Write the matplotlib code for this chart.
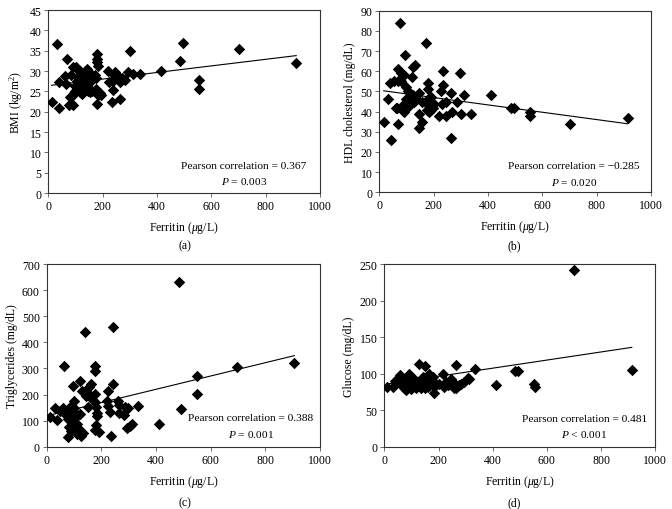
import matplotlib
matplotlib.use("Agg")
import matplotlib.pyplot as plt
import numpy as np

plt.rcParams['font.family'] = ['Liberation Serif', 'DejaVu Serif']
plt.rcParams['mathtext.fontset'] = 'custom'
plt.rcParams['mathtext.rm'] = 'Liberation Serif'
plt.rcParams['mathtext.it'] = 'Liberation Serif:italic'
plt.rcParams['mathtext.bf'] = 'Liberation Serif:bold'

# ---------------- data ----------------
bmi_ferritin = [12, 31, 40, 40, 67, 65, 61, 77, 80, 86, 90, 92, 102, 82, 98, 104, 110, 117,
                123, 117, 129, 135, 123, 144, 144, 147, 153, 117, 141, 147, 160, 153, 172,
                175, 178, 178, 180, 184, 175, 178, 184, 190, 193, 153, 160, 221, 225, 233,
                237, 239, 245, 252, 264, 264, 270, 282, 301, 294, 313, 337, 413, 485, 494,
                555, 555, 700, 912, 100, 110, 130, 95, 240]
bmi_values = [22.3, 36.6, 20.9, 27.4, 33.0, 26.8, 28.7, 21.6, 23.5, 23.9, 21.6, 30.9, 30.9,
              28.9, 26.4, 27.6, 25.6, 29.7, 27.2, 24.8, 26.0, 27.2, 24.3, 28.0, 30.1, 25.2,
              27.2, 30.1, 30.5, 28.9, 28.9, 24.8, 28.9, 28.4, 34.2, 33.0, 32.1, 31.3, 25.6,
              21.9, 24.1, 24.6, 24.1, 25.0, 25.0, 30.1, 27.4, 22.5, 25.3, 27.6, 29.7, 28.9,
              23.1, 27.2, 28.2, 27.9, 34.8, 29.7, 29.3, 29.3, 30.1, 32.5, 37.0, 25.6, 27.8,
              35.4, 32.0, 25.0, 28.5, 28.0, 24.5, 29.0]

hdl_ferritin = [16, 33, 40, 43, 67, 67, 65, 70, 77, 80, 80, 86, 92, 92, 90, 96, 98, 104, 98,
                108, 117, 120, 123, 133, 125, 135, 129, 145, 147, 147, 157, 157, 172, 178,
                178, 178, 181, 184, 190, 196, 186, 190, 221, 227, 233, 236, 245, 245, 264,
                266, 264, 285, 297, 301, 313, 337, 411, 485, 497, 555, 555, 703, 914,
                60, 110, 200, 230, 175, 55]
hdl_values = [35, 46, 54, 26, 55, 61, 42, 34, 84, 59, 55, 58, 44, 40, 58, 68, 52, 50, 46,
              43, 47, 57, 62, 63, 48, 46, 45, 32, 39, 49, 35, 45, 74, 51, 54, 46, 40, 43,
              41, 42, 45, 47, 38, 50, 53, 60, 45, 38, 49, 40, 27, 45, 59, 39, 48, 39, 48,
              42, 42, 40, 38, 34, 37, 42, 45, 44, 44, 41, 55]

tg_ferritin = [12, 30, 39, 49, 61, 63, 67, 73, 79, 79, 83, 85, 88, 91, 95, 98, 100, 104, 107,
               110, 112, 120, 122, 124, 128, 132, 140, 144, 149, 152, 156, 161, 177, 177, 177,
               177, 180, 183, 179, 177, 193, 220, 223, 226, 232, 234, 241, 244, 262, 266, 283,
               287, 293, 299, 311, 335, 411, 484, 491, 551, 551, 698, 906,
               70, 90, 100, 115, 160, 185, 265, 305]
tg_values = [115, 148, 102, 135, 148, 310, 125, 138, 36, 106, 74, 125, 157, 100, 138, 234,
             176, 74, 112, 87, 49, 253, 125, 42, 215, 51, 438, 195, 208, 151, 230, 240, 310,
             291, 202, 170, 151, 116, 84, 64, 55, 176, 215, 155, 132, 42, 457, 240, 174, 161,
             123, 151, 72, 148, 87, 157, 87, 630, 144, 272, 202, 304, 322,
             130, 60, 150, 70, 190, 130, 130, 80]

glu_ferritin = [9, 31, 41, 55, 59, 68, 74, 80, 86, 90, 92, 98, 105, 111, 117, 123, 127, 135,
                141, 144, 151, 154, 160, 166, 172, 178, 182, 185, 191, 215, 221, 228, 240, 252,
                258, 264, 274, 283, 295, 308, 314, 336, 412, 483, 492, 554, 556, 699, 913,
                70, 85, 100, 110, 120, 130, 150, 170, 180, 200, 235, 245, 265, 60, 95]
glu_values = [82, 82, 90, 94, 98, 86, 81, 78, 88, 100, 83, 79, 89, 83, 80, 89, 113, 81, 95,
              86, 110, 91, 82, 99, 86, 95, 73, 88, 84, 99, 82, 89, 86, 88, 81, 112, 84, 86,
              89, 94, 92, 106, 84, 103, 103, 86, 82, 242, 105,
              92, 80, 85, 92, 84, 90, 80, 90, 85, 86, 84, 92, 80, 86, 92]

# fitted trend line (slope, intercept)
trend_bmi = (0.0081, 26.4)
trend_hdl = (-0.0182, 50.6)
trend_tg = (0.255, 118.0)
trend_glu = (0.0555, 85.3)

ylabels = [r'BMI (kg/m$^2$)', 'HDL cholesterol (mg/dL)', 'Triglycerides (mg/dL)', 'Glucose (mg/dL)']
ymaxes = [45, 90, 700, 250]
ysteps = [5, 10, 100, 50]
stats = [('0.367', '= 0.003'), ('\u22120.285', '= 0.020'), ('0.388', '= 0.001'), ('0.481', '< 0.001')]
captions = ['(a)', '(b)', '(c)', '(d)']
xticks = [0, 200, 400, 600, 800, 1000]

xs = [bmi_ferritin, hdl_ferritin, tg_ferritin, glu_ferritin]
ys = [bmi_values, hdl_values, tg_values, glu_values]
trends = [trend_bmi, trend_hdl, trend_tg, trend_glu]

# ---------------- layout ----------------
fig = plt.figure(figsize=(6.72, 5.10), dpi=100)
positions = [
    [0.0719, 0.6196, 0.4045, 0.3588],
    [0.5645, 0.6210, 0.4043, 0.3560],
    [0.0695, 0.1222, 0.4067, 0.3580],
    [0.5719, 0.1222, 0.4033, 0.3580],
]
text_pos = [(0.72, 0.149, 0.066), (0.715, 0.146, 0.060), (0.747, 0.161, 0.070), (0.738, 0.157, 0.070)]

fs = 8.5
fs_txt = 8.2
for i in range(4):
    ax = fig.add_axes(positions[i])
    x = np.array(xs[i])
    y = np.array(ys[i])
    ax.scatter(x, y, marker='D', s=34, color='black', linewidths=0, zorder=3)
    m, b = trends[i]
    xl = np.array([x.min(), x.max()])
    ax.plot(xl, m * xl + b, color='black', lw=0.8, zorder=2)
    ax.set_xlim(0, 1000)
    ax.set_ylim(0, ymaxes[i])
    ax.set_xticks(xticks)
    ax.set_yticks(np.arange(0, ymaxes[i] + 0.1, ysteps[i]))
    ax.tick_params(axis='both', labelsize=fs, direction='out', length=3, width=0.6, color='#555555', pad=2)
    for sp in ax.spines.values():
        sp.set_linewidth(0.8)
        sp.set_color('#333333')
    ax.set_ylabel(ylabels[i], fontsize=fs, labelpad=3)
    ax.set_xlabel(r'Ferritin ($\mu$g/L)', fontsize=fs, labelpad=5)
    tx, ty1, ty2 = text_pos[i]
    ax.text(tx, ty1, 'Pearson correlation = ' + stats[i][0], transform=ax.transAxes,
            ha='center', va='center', fontsize=fs_txt)
    ax.text(tx, ty2, r'$P$ ' + stats[i][1], transform=ax.transAxes,
            ha='center', va='center', fontsize=fs_txt)

fig.text(0.275, 1 - 246 / 510, captions[0], ha='center', va='center', fontsize=fs)
fig.text(0.765, 1 - 246 / 510, captions[1], ha='center', va='center', fontsize=fs)
fig.text(0.275, 1 - 503 / 510, captions[2], ha='center', va='center', fontsize=fs)
fig.text(0.765, 1 - 503 / 510, captions[3], ha='center', va='center', fontsize=fs)

fig.savefig('out.png', dpi=100)
